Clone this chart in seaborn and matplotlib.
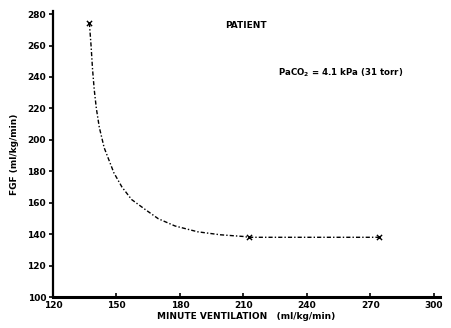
import matplotlib
matplotlib.use("Agg")
import matplotlib.pyplot as plt
import seaborn as sns
import pandas as pd

# curve (ml/kg/min)
curve_ve = [137.2, 138.0, 138.7, 139.5, 140.5, 141.9, 144.2, 148.8, 152.6,
            157.2, 163.7, 169.8, 177.7, 188.4, 199.1, 210.2, 212.6,
            240.0, 274.0]
curve_fgf = [274.4, 260.0, 245.0, 232.0, 220.0, 208.0, 195.0, 179.0, 170.0,
             162.0, 155.6, 149.8, 145.2, 141.5, 139.6, 138.5, 138.0,
             138.0, 138.0]

# measured points (crosses)
pts_ve = [137.2, 212.6, 274.0]
pts_fgf = [274.4, 138.0, 138.0]

x_ticks = [120, 150, 180, 210, 240, 270, 300]
y_ticks = [100, 120, 140, 160, 180, 200, 220, 240, 260, 280]

sns.set_style("ticks", {"text.color": "black", "axes.labelcolor": "black",
                        "xtick.color": "black", "ytick.color": "black",
                        "axes.edgecolor": "black"})
plt.rcParams["font.family"] = ["DejaVu Sans"]

df_curve = pd.DataFrame({"ve": curve_ve, "fgf": curve_fgf})
df_pts = pd.DataFrame({"ve": pts_ve, "fgf": pts_fgf})

fig = plt.figure(figsize=(4.51, 3.28), dpi=100)
ax = fig.add_axes([0.1175, 0.0945, 0.858, 0.872])

sns.lineplot(data=df_curve, x="ve", y="fgf", sort=False, color="black",
             linewidth=1.0, ax=ax)
ax.lines[-1].set_dashes([3, 1.5, 1, 1.5])
sns.scatterplot(data=df_pts, x="ve", y="fgf", marker="x", color="black",
                s=14, linewidth=1.0, ax=ax, zorder=3)

ax.set_xlim(120, 303)
ax.set_ylim(100, 282)
ax.set_xticks(x_ticks)
ax.set_yticks(y_ticks)
ax.tick_params(axis="x", direction="in", length=3, width=1.2, labelsize=6.5, pad=3)
ax.tick_params(axis="y", direction="out", length=3, width=1.2, labelsize=6.5, pad=2)
for lab in ax.get_xticklabels() + ax.get_yticklabels():
    lab.set_fontweight("bold")

sns.despine(ax=ax)
ax.spines["left"].set_linewidth(1.6)
ax.spines["bottom"].set_linewidth(2.2)

ax.set_xlabel("MINUTE VENTILATION   (ml/kg/min)", fontsize=6.5,
              fontweight="bold", labelpad=1)
ax.set_ylabel("FGF (ml/kg/min)", fontsize=6.5, fontweight="bold", labelpad=6)

ax.text(0.499, 0.951, "PATIENT", transform=ax.transAxes, ha="center",
        va="center", fontsize=6.5, fontweight="bold")
ax.text(0.581, 0.783, r"PaCO$_\mathbf{2}$ = 4.1 kPa (31 torr)",
        transform=ax.transAxes, ha="left", va="center", fontsize=6.2,
        fontweight="bold")

fig.savefig("out.png", dpi=100)
